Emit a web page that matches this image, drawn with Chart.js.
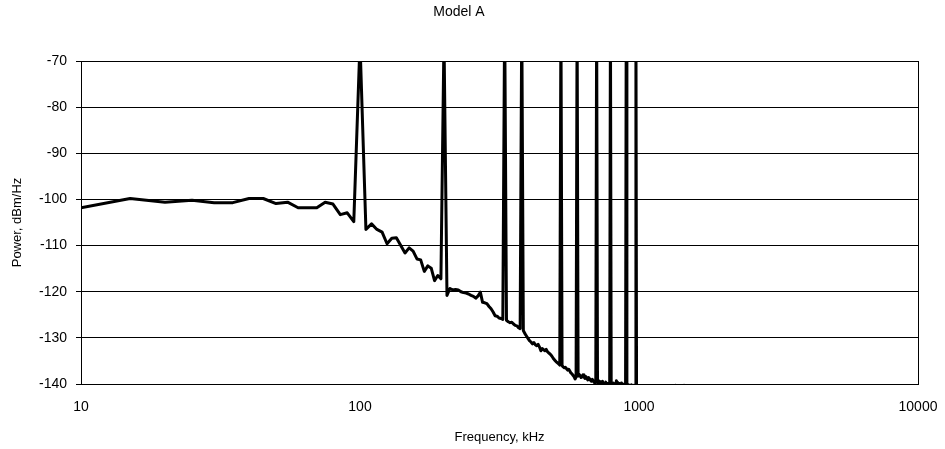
<!DOCTYPE html>
<html>
<head>
<meta charset="utf-8">
<title>Model A</title>
<script src="https://cdn.jsdelivr.net/npm/chart.js@4.4.0/dist/chart.umd.min.js"></script>
<style>
  html, body { margin: 0; padding: 0; background: #fff; }
  #chart { display: block; }
</style>
</head>
<body>
<canvas id="chart" width="945" height="449"></canvas>
<script>
// frequency points, kHz
var freqs = [
  10, 15, 20, 25, 30, 35, 40, 45, 50, 55, 60, 65, 70, 75, 80, 85, 90, 95,
  100, 105, 110, 115, 120, 125, 130, 135, 140, 145, 150, 155, 160, 165, 170, 175, 180, 185, 190, 195,
  200, 205, 210, 215, 220, 225, 230, 235, 240, 245, 250, 255, 260, 265, 270, 275, 280, 285, 290, 295,
  300, 305, 310, 315, 320, 325, 330, 335, 340, 345, 350, 355, 360, 365, 370, 375, 380, 385, 390, 395,
  400, 405, 410, 415, 420, 425, 430, 435, 440, 445, 450, 455, 460, 465, 470, 475, 480, 485, 490, 495,
  500, 505, 510, 515, 520, 525, 530, 535, 540, 545, 550, 555, 560, 565, 570, 575, 580, 585, 590, 595,
  600, 605, 610, 615, 620, 625, 630, 635, 640, 645, 650, 655, 660, 665, 670, 675, 680, 685, 690, 695,
  700, 705, 710, 715, 720, 725, 730, 735, 740, 745, 750, 755, 760, 765, 770, 775, 780, 785, 790, 795,
  800, 805, 810, 815, 820, 825, 830, 835, 840, 845, 850, 855, 860, 865, 870, 875, 880, 885, 890, 895,
  900, 905, 910, 915, 920, 925, 930, 935, 940, 945, 950, 955, 960, 965, 970, 975, 980, 985, 990, 995,
  1000, 1050, 1100, 1150, 1200, 1250, 1300, 1350, 1380, 1450, 1480, 1550, 1600
];

// power spectral density, dBm/Hz
var power = [
  -101.8, -99.8, -100.6, -100.2, -100.7, -100.7, -99.8, -99.8, -100.9, -100.6, -101.8, -101.8, -101.8, -100.6, -101.0, -103.3, -102.9, -104.8,
  -66, -106.5, -105.3, -106.5, -107.1, -109.6, -108.4, -108.3, -110.0, -111.6, -110.5, -111.2, -112.9, -113.1, -115.6, -114.4, -114.9, -117.6, -116.5, -117.2,
  -65, -120.8, -119.3, -119.6, -119.5, -119.6, -120.0, -120.2, -120.3, -120.5, -120.8, -121.0, -121.4, -120.9, -120.1, -122.3, -122.4, -122.6, -123.2, -123.7,
  -124.4, -125.2, -125.3, -125.7, -125.8, -126.0, -60, -126.2, -126.5, -126.7, -126.6, -127.0, -127.3, -127.4, -127.8, -128.0, -60, -128.4, -129.1, -129.6,
  -130.1, -130.6, -130.9, -131.3, -131.0, -131.5, -131.7, -131.4, -132.0, -132.8, -132.3, -132.6, -132.8, -132.5, -133.0, -133.3, -133.5, -133.8, -134.2, -134.6,
  -134.9, -135.2, -135.4, -135.6, -135.9, -60, -136.0, -136.3, -136.5, -136.4, -136.7, -137.0, -136.8, -137.2, -137.6, -137.8, -138.1, -138.4, -138.9, -138.5,
  -60, -138.3, -137.9, -138.2, -138.6, -138.4, -138.0, -138.5, -138.8, -138.4, -138.7, -139.1, -138.6, -138.9, -139.2, -139.4, -139.0, -139.3, -139.6, -139.8,
  -139.5, -60, -139.7, -139.2, -139.9, -139.5, -140.2, -139.7, -139.4, -140.3, -139.8, -140.1, -139.6, -140.4, -139.9, -140.2, -140.1, -140.5, -60, -140.3,
  -140.0, -140.4, -139.8, -140.6, -139.9, -140.3, -139.3, -140.1, -139.7, -140.4, -139.9, -140.2, -140.5, -139.8, -140.3, -140.0, -140.6, -140.2, -140.4, -140.1,
  -60, -140.3, -140.1, -140.5, -140.2, -140.6, -140.3, -140.5, -140.2, -140.7, -140.4, -140.6, -140.3, -140.5, -140.4, -60, -140.6, -140.8, -141.0, -141.3,
  -141.6, -142.5, -143.0, -142.8, -143.2, -142.0, -141.5, -140.3, -141.5, -140.3, -141.6, -143.0, -144.0
];

var xTicks = [10, 100, 1000, 10000];
var yMin = -140, yMax = -70, yStep = 10;

var points = [];
for (var i = 0; i < freqs.length; i++) {
  points.push({ x: freqs[i], y: power[i] });
}

Chart.defaults.font.family = "'Liberation Sans', Arial, sans-serif";
Chart.defaults.font.size = 14;
Chart.defaults.color = '#000';

// right edge of the plot frame
var frameRight = {
  id: 'frameRight',
  afterDatasetsDraw: function(chart) {
    var a = chart.chartArea, ctx = chart.ctx;
    ctx.save();
    ctx.strokeStyle = '#000';
    ctx.lineWidth = 1;
    ctx.beginPath();
    ctx.moveTo(Math.round(a.right) + 0.5, a.top);
    ctx.lineTo(Math.round(a.right) + 0.5, a.bottom);
    ctx.stroke();
    ctx.restore();
  }
};

new Chart(document.getElementById('chart'), {
  type: 'line',
  data: {
    datasets: [{
      data: points,
      borderColor: '#000',
      borderWidth: 3,
      borderJoinStyle: 'round',
      pointRadius: 0,
      tension: 0,
      fill: false
    }]
  },
  options: {
    responsive: false,
    animation: false,
    devicePixelRatio: 1,
    layout: { padding: { left: 0, right: 27, top: 0, bottom: 0 } },
    plugins: {
      legend: { display: false },
      tooltip: { enabled: false },
      title: {
        display: true,
        text: 'Model A',
        font: { size: 14, weight: 'normal' },
        color: '#000',
        padding: { top: 4, bottom: 40.2 }
      }
    },
    scales: {
      x: {
        type: 'logarithmic',
        min: 10,
        max: 10000,
        afterBuildTicks: function(scale) {
          scale.ticks = xTicks.map(function(v) { return { value: v }; });
        },
        afterFit: function(scale) {
          scale.height = 65;
          scale.paddingLeft = 0;
          scale.paddingRight = 0;
        },
        ticks: {
          autoSkip: false,
          maxRotation: 0,
          padding: 15,
          callback: function(v) { return String(v); }
        },
        grid: { display: false, drawTicks: false },
        border: { display: true, color: '#000', width: 1 },
        title: {
          display: true,
          text: 'Frequency, kHz',
          font: { size: 13 },
          padding: { top: 0, bottom: 4 }
        }
      },
      y: {
        min: yMin,
        max: yMax,
        afterFit: function(scale) { scale.width = 81; },
        ticks: { stepSize: yStep, padding: 9 },
        grid: { color: '#000', lineWidth: 1, tickLength: 5 },
        border: { display: true, color: '#000', width: 1 },
        title: {
          display: true,
          text: 'Power, dBm/Hz',
          font: { size: 13 },
          padding: { top: 10, bottom: 0 }
        }
      }
    }
  },
  plugins: [frameRight]
});
</script>
</body>
</html>
